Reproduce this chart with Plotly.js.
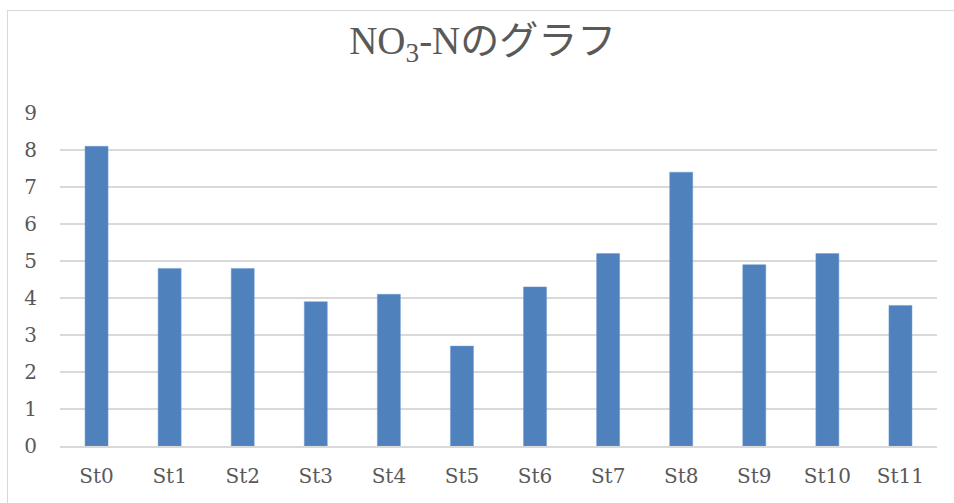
<!DOCTYPE html>
<html><head><meta charset="utf-8">
<script src="https://cdn.plot.ly/plotly-3.0.1.min.js"></script>
<style>
html,body{margin:0;padding:0;background:#fff;}
#wrap{position:relative;width:954px;height:503px;}
#frame{position:absolute;left:7px;top:10px;width:960px;height:520px;border:1px solid #d9d9d9;box-sizing:border-box;pointer-events:none;}
#chart{position:absolute;left:0;top:0;width:954px;height:503px;}
</style></head>
<body><div id="wrap"><div id="chart"></div><div id="frame"></div></div>
<script>
const categories = ["St0","St1","St2","St3","St4","St5","St6","St7","St8","St9","St10","St11"];
const values = [8.1, 4.8, 4.8, 3.9, 4.1, 2.7, 4.3, 5.2, 7.4, 4.9, 5.2, 3.8];
const yTicks = [0,1,2,3,4,5,6,7,8,9];

const serif = '"DejaVu Serif", "Liberation Serif", serif';
const trace = {
  type: 'bar', x: categories, y: values,
  marker: {color: '#4f81bd', line: {color: '#6f9ad0', width: 0.5}},
  hoverinfo: 'skip'
};
const layout = {
  width: 954, height: 503,
  margin: {l: 60, r: 17, t: 113, b: 57},
  paper_bgcolor: '#ffffff', plot_bgcolor: '#ffffff',
  bargap: 0.685,
  showlegend: false,
  title: {
    text: 'NO<sub>3</sub>-N<span style="font-family:\'Noto Sans CJK JP\'">のグラフ</span>',
    font: {family: '"Liberation Serif", serif', size: 39, color: '#595959'},
    x: 0.506, xref: 'container', xanchor: 'center',
    y: 0.92, yref: 'container', yanchor: 'middle'
  },
  xaxis: {
    type: 'category',
    showgrid: false, zeroline: false,
    showline: true, linecolor: '#d9d9d9', linewidth: 1.5,
    ticks: 'outside', ticklen: 11, tickcolor: 'rgba(0,0,0,0)',
    tickfont: {family: serif, size: 20, color: '#595959'}
  },
  yaxis: {
    range: [0, 9], tickvals: yTicks, ticktext: yTicks.map(String),
    showgrid: true, gridcolor: '#d9d9d9', gridwidth: 1.5,
    zeroline: false, showline: false,
    ticks: 'outside', ticklen: 18, tickcolor: 'rgba(0,0,0,0)',
    tickfont: {family: serif, size: 20, color: '#595959'}
  }
};
Plotly.newPlot('chart', [trace], layout, {staticPlot: true, displayModeBar: false});
</script></body></html>
